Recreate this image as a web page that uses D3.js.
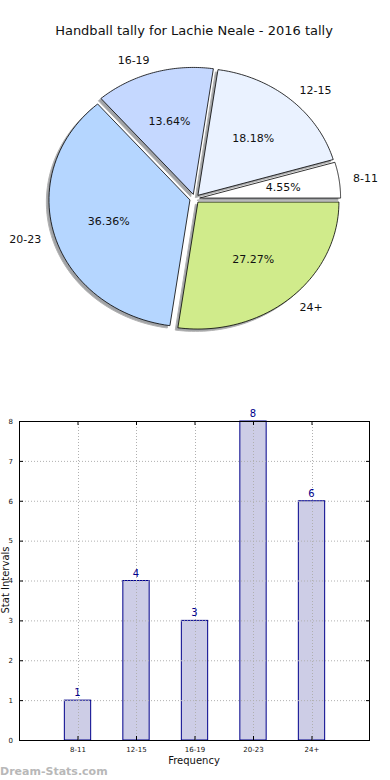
<!DOCTYPE html>
<html><head><meta charset="utf-8">
<script src="https://cdn.jsdelivr.net/npm/d3@7"></script>
<style>body{margin:0;background:#fff}svg{display:block;font-family:"DejaVu Sans",sans-serif}</style>
</head><body><svg id="c" width="390" height="780"></svg>
<script>
const categories = ["8-11","12-15","16-19","20-23","24+"];
const counts = [1,4,3,8,6];
const sliceColors = ["#ffffff","#eaf2ff","#c5d8ff","#b5d6ff","#d0eb8b"];
const yTicks = [0,1,2,3,4,5,6,7,8];
const title = "Handball tally for Lachie Neale - 2016 tally";

const svg = d3.select("#c");
svg.append("text").attr("x",194).attr("y",35).attr("text-anchor","middle")
  .attr("font-size",13).attr("fill","#111").text(title);

// ---- Pie ----
const cx = 194.7, cy = 198.7, rx = 141, ry = 127, explode = 0.035;
const total = d3.sum(counts);
const angScale = d3.scaleLinear().domain([0,total]).range([0,2*Math.PI]);
let cum = 0;
const slices = counts.map((v,i)=>{const a0=angScale(cum); cum+=v; const a1=angScale(cum); return {i,v,a0,a1,mid:(a0+a1)/2};});
function pt(ox,oy,a,f){return [ox+f*rx*Math.cos(a), oy-f*ry*Math.sin(a)];}
function slicePath(s,ox,oy){
  const p=d3.path(); p.moveTo(ox,oy);
  const n=60;
  for(let k=0;k<=n;k++){const a=s.a0+(s.a1-s.a0)*k/n; const q=pt(ox,oy,a,1); p.lineTo(q[0],q[1]);}
  p.closePath(); return p.toString();
}
const shadowG = svg.append("g");
const pieG = svg.append("g");
slices.forEach(s=>{
  const ox = cx + explode*rx*Math.cos(s.mid), oy = cy - explode*ry*Math.sin(s.mid);
  s.ox=ox; s.oy=oy;
  shadowG.append("path").attr("d",slicePath(s,ox-2.6,oy+2.3))
    .attr("fill","#8a8d90").attr("stroke","#a0a0a0").attr("stroke-width",1).attr("opacity",0.8);
});
slices.forEach(s=>{
  pieG.append("path").attr("d",slicePath(s,s.ox,s.oy))
    .attr("fill",sliceColors[s.i]).attr("stroke","#000").attr("stroke-width",0.8);
  const lp = pt(s.ox,s.oy,s.mid,1.1);
  const anchor = Math.cos(s.mid) > 0 ? "start" : "end";
  pieG.append("text").attr("x",lp[0]).attr("y",lp[1]).attr("dy","0.35em")
    .attr("text-anchor",anchor).attr("font-size",11).attr("fill","#111").text(categories[s.i]);
  const pp = pt(s.ox,s.oy,s.mid,0.6);
  pieG.append("text").attr("x",pp[0]).attr("y",pp[1]).attr("dy","0.35em")
    .attr("text-anchor","middle").attr("font-size",11).attr("fill","#111")
    .text((s.v/total*100).toFixed(2)+"%");
});

// ---- Bar chart ----
const L=19, R=370, T=421, B=740;
const x = d3.scaleLinear().domain([0,categories.length+1]).range([L,R]);
const y = d3.scaleLinear().domain([0,8]).range([B,T]);
const bw = 0.45;
const bg = svg.append("g");
bg.selectAll("rect.bar").data(counts).join("rect").attr("class","bar")
  .attr("x",(d,i)=>x(i+1-bw/2)).attr("width",x(bw)-x(0))
  .attr("y",d=>y(d)).attr("height",d=>B-y(d))
  .attr("fill","#cdcde6").attr("stroke","#00008b").attr("stroke-width",1);
// grid
const grid = bg.append("g").attr("stroke","#b0b0b0").attr("stroke-width",1).attr("stroke-dasharray","1,2");
yTicks.forEach(t=>grid.append("line").attr("x1",L).attr("x2",R).attr("y1",y(t)+0.5).attr("y2",y(t)+0.5));
categories.forEach((c,i)=>grid.append("line").attr("x1",Math.round(x(i+1))+0.5).attr("x2",Math.round(x(i+1))+0.5).attr("y1",T).attr("y2",B));
// axes via d3
const yAxis = d3.axisLeft(y).tickValues(yTicks).tickSize(-4).tickPadding(6).tickFormat(d3.format("d"));
const ya = bg.append("g").attr("transform",`translate(${L},0)`).call(yAxis);
ya.select(".domain").remove();
ya.selectAll("text").attr("font-size",7).attr("font-family","DejaVu Sans").attr("fill","#111");
ya.selectAll("line").attr("stroke","#000");
const yAxisR = d3.axisRight(y).tickValues(yTicks).tickSize(-4).tickFormat("");
const yr = bg.append("g").attr("transform",`translate(${R},0)`).call(yAxisR);
yr.select(".domain").remove();
const xAxis = d3.axisBottom(x).tickValues(d3.range(1,categories.length+1)).tickSize(-4).tickPadding(7)
  .tickFormat(d=>categories[d-1]);
const xa = bg.append("g").attr("transform",`translate(0,${B})`).call(xAxis);
xa.select(".domain").remove();
xa.selectAll("text").attr("font-size",7).attr("font-family","DejaVu Sans").attr("fill","#111");
const xAxisT = d3.axisTop(x).tickValues(d3.range(1,categories.length+1)).tickSize(-4).tickFormat("");
const xt = bg.append("g").attr("transform",`translate(0,${T})`).call(xAxisT);
xt.select(".domain").remove();
bg.append("rect").attr("x",L+0.5).attr("y",T+0.5).attr("width",R-L-1).attr("height",B-T)
  .attr("fill","none").attr("stroke","#000").attr("stroke-width",1);
// value labels
bg.selectAll("text.val").data(counts).join("text").attr("class","val")
  .attr("x",(d,i)=>x(i+1)).attr("y",d=>y(d)-4).attr("text-anchor","middle")
  .attr("font-size",10).attr("fill","#00008b").text(d=>d);
// axis labels
svg.append("text").attr("x",194).attr("y",764).attr("text-anchor","middle")
  .attr("font-size",10).attr("fill","#111").text("Frequency");
svg.append("text").attr("transform","translate(9,580) rotate(-90)").attr("text-anchor","middle")
  .attr("font-size",10).attr("fill","#111").text("Stat Intervals");
// watermark
svg.append("text").attr("x",0).attr("y",775).attr("font-size",11).attr("font-weight","bold")
  .attr("fill","#b8b8b8").text("Dream-Stats.com");
</script></body></html>
